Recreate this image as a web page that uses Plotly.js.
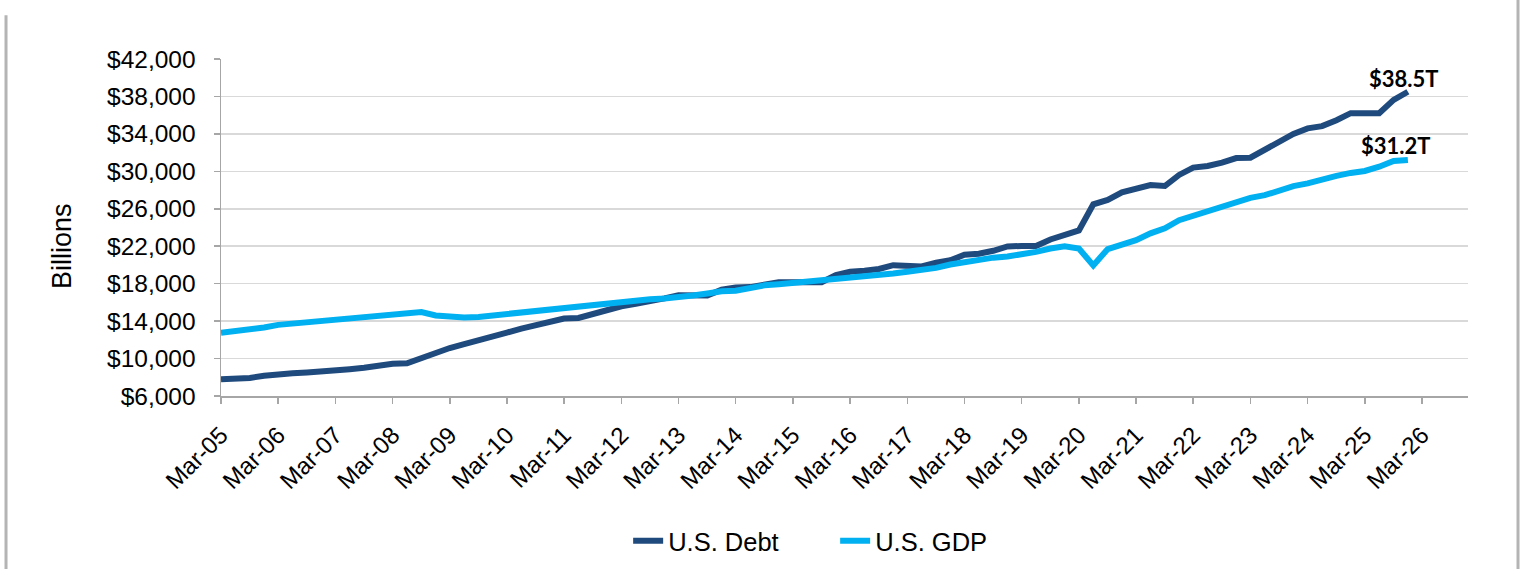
<!DOCTYPE html>
<html>
<head>
<meta charset="utf-8">
<script src="https://cdn.plot.ly/plotly-3.0.1.min.js"></script>
<style>
  html, body { margin: 0; padding: 0; background: #ffffff; }
  #chart { width: 1523px; height: 569px; }
</style>
</head>
<body>
<div id="chart"></div>
<script>
// Quarterly observations, Mar-05 through Dec-25
const years = [2005,2006,2007,2008,2009,2010,2011,2012,2013,2014,2015,2016,2017,2018,2019,2020,2021,2022,2023,2024,2025];
const quarterMonths = ['03','06','09','12'];

// U.S. total public debt, $ billions
const debtValues = [
  7777, 7836, 7933, 8170,
  8371, 8420, 8507, 8680,
  8849, 8868, 9008, 9229,
  9437, 9492, 10025, 10700,
  11127, 11545, 11910, 12311,
  12773, 13202, 13562, 14025,
  14270, 14343, 14790, 15223,
  15582, 15856, 16066, 16433,
  16771, 16738, 16738, 17352,
  17601, 17632, 17824, 18141,
  18152, 18152, 18151, 18922,
  19264, 19381, 19573, 19977,
  19846, 19845, 20245, 20493,
  21090, 21195, 21516, 21974,
  22028, 22023, 22719, 23201,
  23687, 26477, 26945, 27748,
  28133, 28529, 28429, 29617,
  30401, 30568, 30929, 31420,
  31458, 32332, 33167, 34001,
  34587, 34831, 35465, 36218,
  36215, 36211, 37638, 38500
];

// U.S. nominal GDP (SAAR), $ billions
const gdpValues = [
  12767, 12922, 13142, 13324,
  13600, 13740, 13860, 14030,
  14150, 14340, 14520, 14660,
  14710, 14880, 14960, 14600,
  14440, 14380, 14450, 14620,
  14780, 14940, 15110, 15280,
  15340, 15540, 15690, 15880,
  16090, 16230, 16340, 16420,
  16650, 16730, 16950, 17190,
  17240, 17540, 17820, 17930,
  18060, 18280, 18400, 18440,
  18550, 18720, 18890, 19080,
  19280, 19440, 19690, 20040,
  20330, 20580, 20780, 20900,
  21100, 21400, 21750, 22000,
  21750, 19950, 21700, 22100,
  22650, 23370, 23920, 24780,
  25220, 25810, 26270, 26730,
  27160, 27450, 28000, 28420,
  28710, 29150, 29510, 29830,
  30040, 30490, 31100, 31220
];

// X-axis tick labels
const tickYears = [2005,2006,2007,2008,2009,2010,2011,2012,2013,2014,2015,2016,2017,2018,2019,2020,2021,2022,2023,2024,2025,2026];
const tickLabels = ['Mar-05','Mar-06','Mar-07','Mar-08','Mar-09','Mar-10','Mar-11','Mar-12','Mar-13','Mar-14','Mar-15','Mar-16','Mar-17','Mar-18','Mar-19','Mar-20','Mar-21','Mar-22','Mar-23','Mar-24','Mar-25','Mar-26'];

const seriesNames = ['U.S. Debt', 'U.S. GDP'];
const seriesColors = ['#1F4A7E', '#00B0F0'];

const dates = [];
years.forEach(y => quarterMonths.forEach(m => dates.push(y + '-' + m + '-01')));
const tickVals = tickYears.map(y => y + '-03-01');

const FONT = 'Liberation Sans, Arial, Helvetica, sans-serif';

const traces = [
  { x: dates, y: debtValues, name: seriesNames[0], type: 'scatter', mode: 'lines',
    line: { color: seriesColors[0], width: 6 }, hoverinfo: 'skip' },
  { x: dates, y: gdpValues, name: seriesNames[1], type: 'scatter', mode: 'lines',
    line: { color: seriesColors[1], width: 6 }, hoverinfo: 'skip' }
];

const lastDate = dates[dates.length - 1];
const lastDebt = debtValues[debtValues.length - 1];
const lastGdp = gdpValues[gdpValues.length - 1];
const fmtT = v => '$' + (v / 1000).toFixed(1) + 'T';

const layout = {
  width: 1523, height: 569,
  paper_bgcolor: '#ffffff', plot_bgcolor: '#ffffff',
  margin: { l: 221, r: 55, t: 59, b: 173, autoexpand: false },
  font: { family: FONT, size: 24, color: '#000000' },
  showlegend: true,
  legend: {
    orientation: 'h', x: 0.3265, xanchor: 'left',
    yref: 'container', y: 0.049, yanchor: 'middle',
    font: { family: FONT, size: 25.5, color: '#000000' },
    entrywidth: 162, entrywidthmode: 'pixels', bgcolor: 'rgba(0,0,0,0)'
  },
  xaxis: {
    type: 'date', range: ['2005-03-01', '2026-12-20'],
    tickmode: 'array', tickvals: tickVals, ticktext: tickLabels,
    tickangle: -45, ticks: 'outside', ticklen: 6, tickcolor: '#a6a6a6', tickwidth: 1.5,
    showline: true, linecolor: '#a6a6a6', linewidth: 1.5,
    showgrid: false, zeroline: false, ticklabelstandoff: 8, automargin: false,
    tickfont: { family: FONT, size: 24, color: '#000000' }, fixedrange: true
  },
  yaxis: {
    range: [6000, 42000], dtick: 4000, tick0: 6000,
    tickprefix: '$', tickformat: ',d',
    ticks: 'outside', ticklen: 6, tickcolor: '#a6a6a6', tickwidth: 1.5,
    showline: true, linecolor: '#a6a6a6', linewidth: 1.5,
    showgrid: true, gridcolor: '#d9d9d9', gridwidth: 1.5, zeroline: false,
    ticklabelstandoff: 13, automargin: false,
    tickfont: { family: FONT, size: 24.5, color: '#000000' }, fixedrange: true
  },
  annotations: [
    { x: lastDate, y: lastDebt, xref: 'x', yref: 'y', text: fmtT(lastDebt), showarrow: false,
      xanchor: 'center', yanchor: 'middle', xshift: -4, yshift: 13,
      font: { family: 'Lato, Open Sans, sans-serif', size: 22, color: '#000000', weight: 'bold' } },
    { x: lastDate, y: lastGdp, xref: 'x', yref: 'y', text: fmtT(lastGdp), showarrow: false,
      xanchor: 'center', yanchor: 'middle', xshift: -12, yshift: 14,
      font: { family: 'Lato, Open Sans, sans-serif', size: 22, color: '#000000', weight: 'bold' } },
    { x: -0.1275, y: 0.445, xref: 'paper', yref: 'paper', text: 'Billions', showarrow: false,
      textangle: -90, xanchor: 'center', yanchor: 'middle',
      font: { family: FONT, size: 27, color: '#000000' } }
  ],
  shapes: [
    { type: 'line', xref: 'paper', yref: 'paper', x0: -0.1724, x1: -0.1724, y0: 1.13, y1: -0.52,
      line: { color: '#b4b4b4', width: 3 } },
    { type: 'line', xref: 'paper', yref: 'paper', x0: 1.0401, x1: 1.0401, y0: 1.175, y1: -0.52,
      line: { color: '#b4b4b4', width: 3 } }
  ]
};

Plotly.newPlot('chart', traces, layout, { displayModeBar: false, staticPlot: true });
</script>
</body>
</html>
